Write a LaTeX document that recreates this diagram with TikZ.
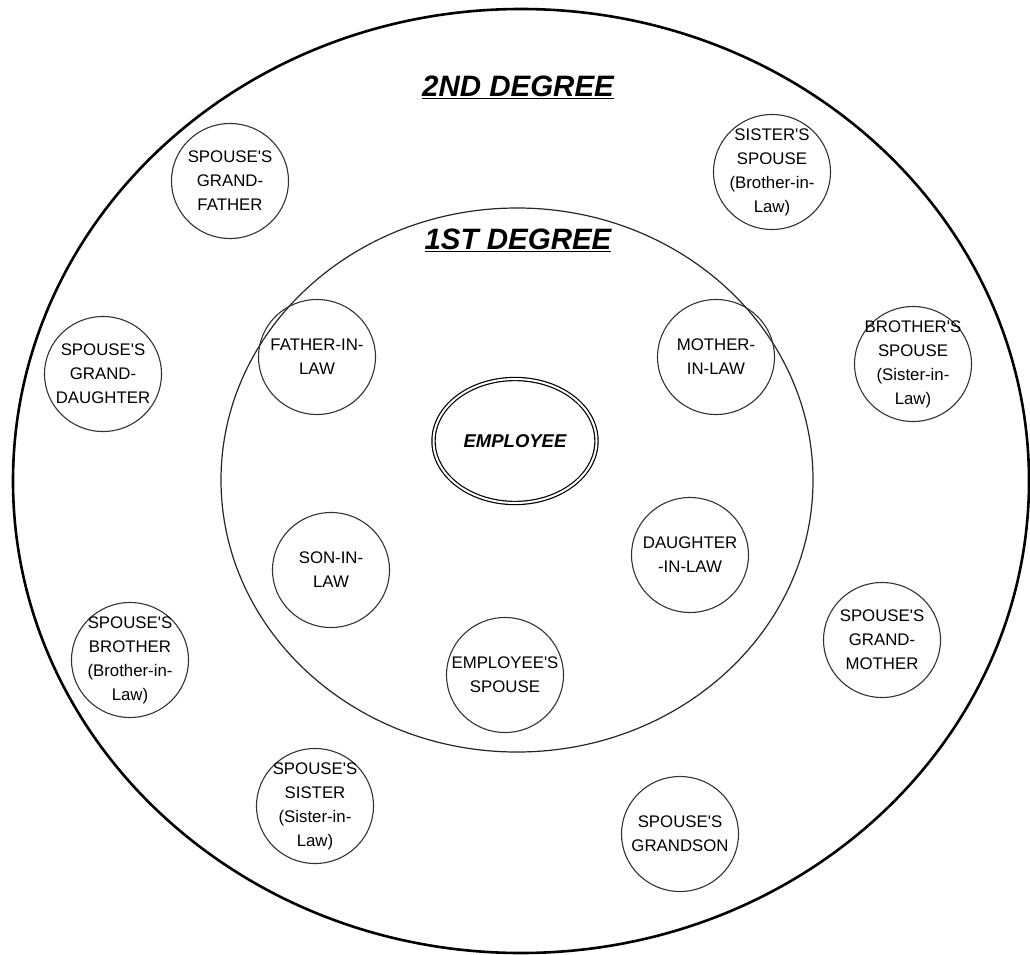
\documentclass[tikz,border=0pt]{standalone}
\usepackage{fontspec}
\newfontfamily\arialf{Liberation Sans}
\usetikzlibrary{shapes.geometric}
\begin{document}
\begin{tikzpicture}[x=1pt,y=-1pt,
  rel/.style={ellipse,draw=black!80,line width=1.1pt,inner sep=0pt,
    minimum width=117pt,minimum height=115pt},
  txt/.style={inner sep=0pt,align=center,
    font=\arialf\fontsize{16.8}{24}\selectfont},
  ring/.style={ellipse,draw=black!85,line width=1.2pt,inner sep=0pt},
  title/.style={font=\arialf\fontsize{29.5}{30}\selectfont\bfseries\itshape,inner sep=0pt}]
\useasboundingbox (0,0) rectangle (1030,955);
\fill[white] (0,0) rectangle (1030,955);
\node[ring,line width=2.6pt,draw=black,minimum width=1016pt,minimum height=944pt] (outer) at (521,481) {};
\node[ring,minimum width=592pt,minimum height=544pt] (inner) at (517,480) {};
\node[title] (t2) at (518,87) {\underline{2ND DEGREE}};
\node[title] (t1) at (518,240) {\underline{1ST DEGREE}};
\node[ellipse,draw=black,double=white,double distance=2pt,line width=1.2pt,inner sep=0pt,
  minimum width=163pt,minimum height=124pt] (emp) at (515,441) {};
\node[font=\arialf\fontsize{18.5}{20}\selectfont\bfseries\itshape,inner sep=0pt] (empt) at (emp) {EMPLOYEE};
\node[rel] (fil) at (317,357) {};
\node[txt] (filt) at (fil) {FATHER-IN-\\LAW};
\node[rel] (mil) at (716,357) {};
\node[txt] (milt) at (mil) {MOTHER-\\IN-LAW};
\node[rel] (sil) at (331,570) {};
\node[txt] (silt) at (sil) {SON-IN-\\LAW};
\node[rel] (dil) at (690,555) {};
\node[txt] (dilt) at (dil) {DAUGHTER\\-IN-LAW};
\node[rel] (esp) at (505,675) {};
\node[txt] (espt) at (esp) {EMPLOYEE'S\\SPOUSE};
\node[rel] (sgf) at (230,181) {};
\node[txt] (sgft) at (sgf) {SPOUSE'S\\GRAND-\\FATHER};
\node[rel] (ssp) at (772,172) {};
\node[txt] (sspt) at (ssp) {SISTER'S\\SPOUSE\\(Brother-in-\\Law)};
\node[rel] (sgd) at (103,374) {};
\node[txt] (sgdt) at (sgd) {SPOUSE'S\\GRAND-\\DAUGHTER};
\node[rel] (bsp) at (913,364) {};
\node[txt] (bspt) at (bsp) {BROTHER'S\\SPOUSE\\(Sister-in-\\Law)};
\node[rel] (sbr) at (130,660) {};
\node[txt] (sbrt) at (sbr) {SPOUSE'S\\BROTHER\\(Brother-in-\\Law)};
\node[rel] (sgm) at (882,640) {};
\node[txt] (sgmt) at (sgm) {SPOUSE'S\\GRAND-\\MOTHER};
\node[rel] (sss) at (315,806) {};
\node[txt] (ssst) at (sss) {SPOUSE'S\\SISTER\\(Sister-in-\\Law)};
\node[rel] (sgs) at (680,834) {};
\node[txt] (sgst) at (sgs) {SPOUSE'S\\GRANDSON};
\end{tikzpicture}
\end{document}
